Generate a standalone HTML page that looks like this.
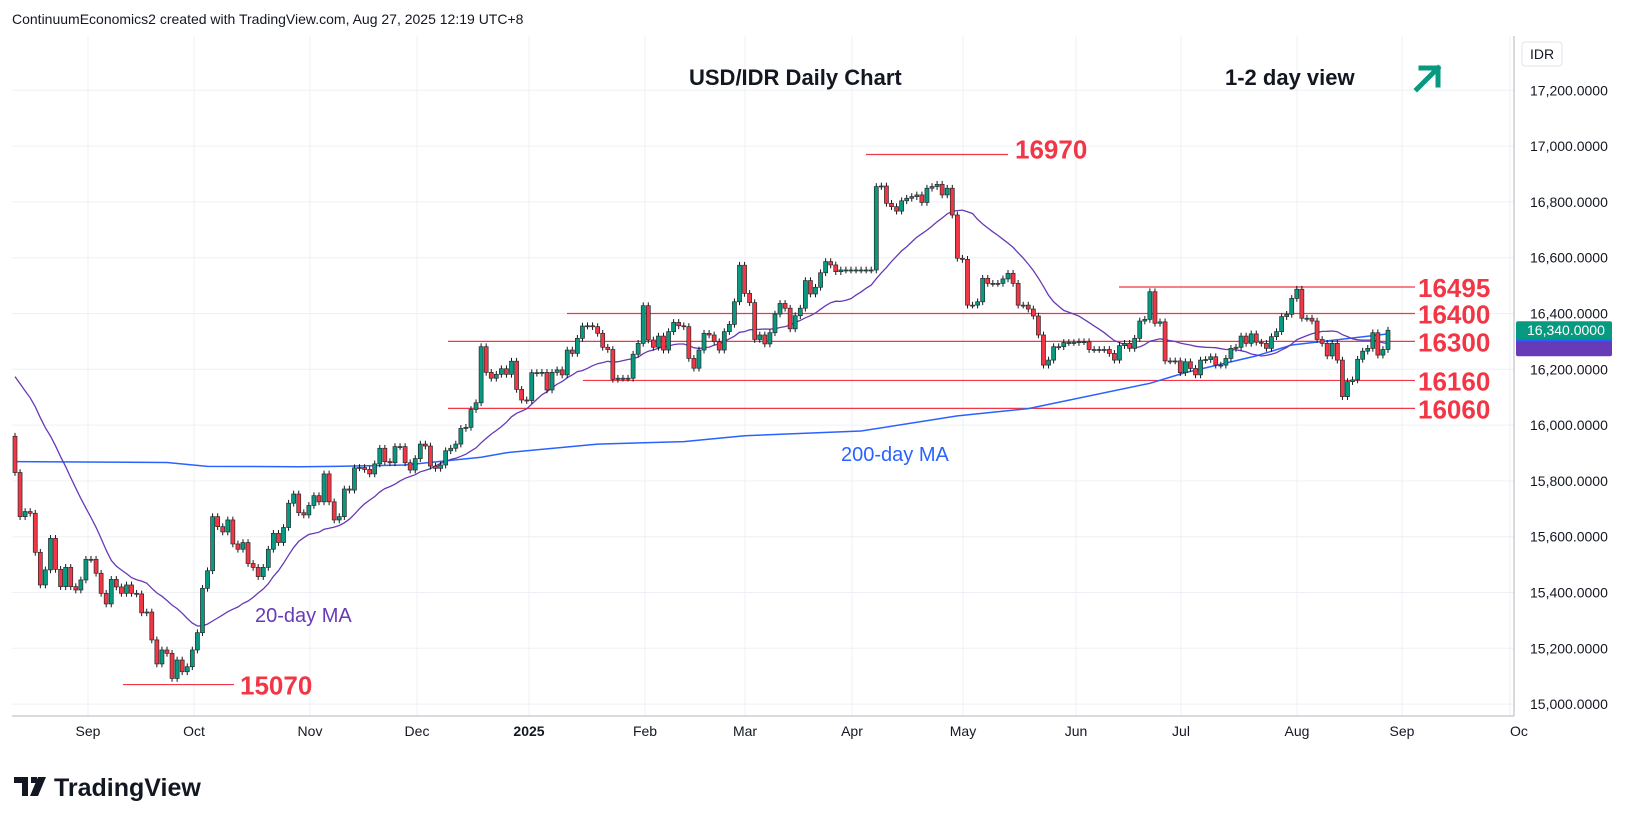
<!DOCTYPE html>
<html><head><meta charset="utf-8"><style>
html,body{margin:0;padding:0;background:#fff;width:1632px;height:824px;overflow:hidden;font-family:"Liberation Sans",sans-serif}
svg{display:block}
</style></head><body>
<svg id="chart" width="1632" height="824" viewBox="0 0 1632 824" xmlns="http://www.w3.org/2000/svg" font-family="Liberation Sans, sans-serif">
<text x="12" y="24" font-size="14" fill="#131722">ContinuumEconomics2 created with TradingView.com, Aug 27, 2025 12:19 UTC+8</text>
<g id="grid"></g>
<g id="levels"></g>
<g id="mas"></g>
<g id="candles"></g>
<line x1="1514" y1="36" x2="1514" y2="716" stroke="#b2b5be" stroke-width="1"/>
<line x1="12" y1="716" x2="1514" y2="716" stroke="#b2b5be" stroke-width="1"/>
<g id="yaxis"></g>
<g id="xaxis"></g>
<text x="689" y="85" font-size="22" font-weight="bold" fill="#131722">USD/IDR Daily Chart</text>
<text x="1225" y="85" font-size="22" font-weight="bold" fill="#131722">1-2 day view</text>
<g stroke="#089981" stroke-width="5" fill="none" stroke-linecap="square">
<line x1="1417" y1="89" x2="1438" y2="68"/><polyline points="1421,68 1438,68 1438,85"/></g>
<text x="255" y="622" font-size="20" fill="#673ab7">20-day MA</text>
<text x="841" y="461" font-size="20" fill="#2962ff">200-day MA</text>
<rect x="1522" y="42" width="40" height="24" rx="3" fill="#fff" stroke="#e0e3eb"/>
<text x="1530" y="59" font-size="14" fill="#131722">IDR</text>
<g>
<path d="M14 777h14v19h-6v-13h-8z M31 777h6v6h-6z M38 777h8l-8 19h-8z" fill="#131722"/>
<text x="54" y="796" font-size="25" font-weight="bold" fill="#131722">TradingView</text></g>
</svg>
<script>
const openPrice = 15960;
const closes = [15830,15672,15690,15684,15544,15427,15481,15594,15483,15421,
15490,15421,15409,15445,15519,15519,15469,15397,15359,15447,
15420,15397,15427,15397,15395,15327,15330,15230,15144,15194,
15182,15092,15158,15116,15134,15194,15256,15415,15478,15672,
15636,15617,15660,15574,15555,15579,15504,15490,15457,15490,
15555,15612,15579,15633,15720,15753,15686,15678,15712,15747,
15725,15825,15725,15660,15672,15771,15767,15847,15848,15841,
15825,15861,15917,15869,15865,15923,15923,15865,15839,15880,
15932,15925,15853,15845,15857,15908,15917,15932,15988,15992,
16056,16080,
16281,16189,16168,16182,16202,16182,16229,16128,16090,16088,
16188,16186,16189,16126,16189,16198,16180,16269,16257,16311,
16355,16356,16353,16329,16279,16271,16164,16168,16168,16168,
16254,16293,16428,16305,16279,16319,16269,16335,16368,16356,
16353,16239,16204,16269,16329,16323,16299,16269,16335,16361,
16442,16573,16472,16439,16307,16323,16291,16331,16398,16436,
16419,16345,16392,16419,16518,16470,16494,16546,16586,16574,
16550,16556,16556,16556,16556,16556,16556,16556,
16855,16857,16795,16783,16767,16804,16813,16819,16825,16798,
16849,16855,16863,16825,16849,16753,16598,
16594,16430,16430,16442,16526,16508,16508,16508,16524,16544,
16508,16430,16430,16416,16391,16323,16215,16233,16281,16281,
16296,16296,16296,16299,16299,16271,16271,16271,16271,16257,
16233,16285,16293,16275,16311,16373,16379,16478,16365,16370,
16230,16230,16230,16188,16227,16203,16180,16233,16235,16245,
16215,16215,16239,16275,16279,16319,16293,16327,16297,16293,
16275,16317,16335,16389,16397,16454,16487,16383,16383,16373,
16307,16293,16248,16293,16233,16102,16156,16162,16236,16265,
16275,16331,16251,16271,16340];
const preCloses = [16190,16200,16180,16190,16210,16200,16190,16180,16200,16210,16190,16180,16190,16200,16190,16180,16190,16200,16180];
const ma200Bars = [0,30,38,56,63,77,92,97,115,132,144,167,186,200,224,231,245,252,271];
const ma200Vals = [15869,15866,15852,15851,15852,15857,15885,15901,15932,15941,15962,15979,16033,16059,16150,16188,16248,16287,16327];
const levelVals = [16970,16495,16400,16300,16160,16060,15070];
const levelLabels = ["16970","16495","16400","16300","16160","16060","15070"];
const yTicks = [15000,15200,15400,15600,15800,16000,16200,16400,16600,16800,17000,17200];
const yTickLabels = ["15,000.0000","15,200.0000","15,400.0000","15,600.0000","15,800.0000","16,000.0000","16,200.0000","16,400.0000","16,600.0000","16,800.0000","17,000.0000","17,200.0000"];
const monthLabels = ["Sep","Oct","Nov","Dec","2025","Feb","Mar","Apr","May","Jun","Jul","Aug","Sep","Oc"];
const monthX = [88,194,310,417,529,645,745,852,963,1076,1181,1297,1402,1510];

const NS="http://www.w3.org/2000/svg";
const N=closes.length;
const dx=(1388-15)/(N-1);
const X=i=>15+i*dx;
const Y=p=>369.3-(p-16200)*0.279;
function mk(tag,attrs,parent){const e=document.createElementNS(NS,tag);for(const k in attrs)e.setAttribute(k,attrs[k]);parent.appendChild(e);return e;}
const grid=document.getElementById('grid'),lv=document.getElementById('levels'),ma=document.getElementById('mas'),cg=document.getElementById('candles'),ya=document.getElementById('yaxis'),xa=document.getElementById('xaxis');

yTicks.forEach((t,k)=>{
  const y=Y(t);
  if(y>36&&y<716){
    const l=mk('line',{x1:12,x2:1514,y1:y,y2:y,stroke:'#edf0f4','stroke-width':1},grid);
    
    
  }
  const tx=mk('text',{x:1530,y:y+5,'font-size':14,fill:'#131722'},ya);
  tx.textContent=yTickLabels[k];
  
  
});
monthLabels.forEach((m,k)=>{
  const x=monthX[k];
  if(x<1514){
    const l=mk('line',{x1:x,x2:x,y1:36,y2:716,stroke:'#edf0f4','stroke-width':1},grid);
    
    
  }
  const tx=mk('text',{x:x,y:736,'font-size':14,fill:'#131722','text-anchor':m==='Oc'?'start':'middle','font-weight':m==='2025'?'bold':'normal'},xa);
  tx.textContent=m;
  
  
});

const levelStart=[866,1119,567,448,583,448,123];
const levelEnd=[1008,1415,1415,1415,1415,1415,234];
const labelX=[1015,1418,1418,1418,1418,1418,240];
const labelDy=[4,10,10,10,10,10,10];
levelVals.forEach((v,k)=>{
  const y=Y(v);
  const l=mk('line',{x1:levelStart[k],x2:levelEnd[k],y1:y,y2:y,stroke:'#f23645','stroke-width':1.2},lv);
  
  
  const t=mk('text',{x:labelX[k],y:y+labelDy[k],'font-size':26,'font-weight':'bold',fill:'#f23645'},lv);
  t.textContent=levelLabels[k];
  
  
});

let pts=ma200Bars.map((b,k)=>X(b).toFixed(1)+','+Y(ma200Vals[k]).toFixed(1)).join(' ');
const m2=mk('polyline',{points:pts,fill:'none',stroke:'#2962ff','stroke-width':1.5},ma);


const all=preCloses.concat(closes);
let p20=[];
for(let i=0;i<N;i++){let s=0;for(let j=0;j<20;j++)s+=all[i+preCloses.length-j];p20.push(X(i).toFixed(1)+','+Y(s/20).toFixed(1));}
const m1=mk('polyline',{points:p20.join(' '),fill:'none',stroke:'#673ab7','stroke-width':1.3},ma);



for(let i=0;i<N;i++){
  const o=i===0?openPrice:closes[i-1],c=closes[i];
  const up=c>=o;
  const hi=Math.max(o,c)+12,lo=Math.min(o,c)-12;
  const x=X(i);
  const g=mk('g',{},cg);
  
  
  mk('line',{x1:x,x2:x,y1:Y(hi),y2:Y(lo),stroke:'#131722','stroke-width':1},g);
  const yt=Y(Math.max(o,c)),yb=Y(Math.min(o,c));
  mk('rect',{x:x-2,y:yt,width:4,height:Math.max(1,yb-yt),fill:up?'#089981':'#f23645',stroke:'#2a2a2a','stroke-width':0.7},g);
}

const last=closes[N-1];
const yl=Y(last);
const tag2=mk('rect',{x:1516,y:yl+9,width:96,height:17,rx:2,fill:'#673ab7'},ya);


const tb=mk('rect',{x:1516,y:yl+7,width:96,height:4,fill:'#2962ff'},ya);


const tag=mk('rect',{x:1516,y:yl-9,width:96,height:18,rx:2,fill:'#089981'},ya);


const tt=mk('text',{x:1527,y:yl+5,'font-size':14,fill:'#fff'},ya);
tt.textContent=last.toLocaleString('en-US')+'.0000';


</script>
</body></html>
